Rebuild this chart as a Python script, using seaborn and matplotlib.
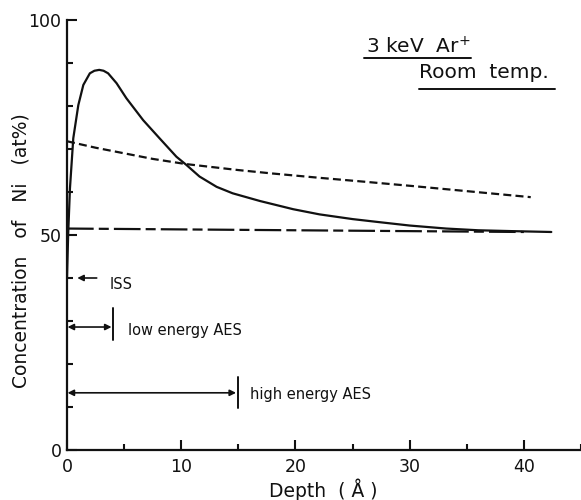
import matplotlib
matplotlib.use("Agg")
import matplotlib.pyplot as plt
from matplotlib.ticker import MultipleLocator, FixedLocator
import pandas as pd
import seaborn as sns

# Ni surface concentration vs depth after 3 keV Ar+ sputtering (room temperature)
depth_solid = [0.0, 0.1, 0.26, 0.55, 0.99, 1.43, 2.0, 2.4, 2.82, 3.2, 3.6, 4.34,
               5.2, 6.67, 8.1, 9.58, 10.45, 11.6, 13.1, 14.5, 16.9, 19.8, 22.1,
               25.0, 27.3, 30.0, 33.2, 36.0, 39.0, 42.4]
conc_solid = [40.0, 50.0, 60.9, 72.5, 80.2, 84.9, 87.6, 88.2, 88.4, 88.2, 87.6,
              85.3, 81.8, 76.7, 72.5, 68.2, 66.3, 63.6, 61.2, 59.7, 57.9, 56.0,
              54.8, 53.7, 53.0, 52.2, 51.5, 51.1, 50.9, 50.7]

depth_dashed = [0.0, 2.5, 5.0, 7.5, 10.4, 15.0, 18.0, 22.1, 26.0, 30.2, 35.0, 40.6]
conc_dashed = [71.8, 70.3, 69.0, 67.7, 66.5, 65.1, 64.3, 63.3, 62.4, 61.4, 60.2, 58.8]

depth_dashdot = [0.0, 10.0, 20.0, 30.0, 40.0]
conc_dashdot = [51.5, 51.3, 51.1, 50.9, 50.7]

# probing depths of the analysis methods (Å) and the heights they are drawn at
iss_depth, iss_level = 0.9, 40.0
low_aes_depth, low_aes_level = 3.9, 28.6
high_aes_depth, high_aes_level = 14.8, 13.3

font = "DejaVu Sans"
sns.set_style("ticks")
plt.rcParams["font.family"] = [font]

fig = plt.figure(figsize=(5.81, 5.0), dpi=100)
ax = fig.add_axes([67 / 581, 0.10, 1 - 67 / 581, 0.86])

df_solid = pd.DataFrame({"depth": depth_solid, "conc": conc_solid})
df_dashed = pd.DataFrame({"depth": depth_dashed, "conc": conc_dashed})
df_dashdot = pd.DataFrame({"depth": depth_dashdot, "conc": conc_dashdot})

ink = "#111111"
sns.lineplot(data=df_solid, x="depth", y="conc", ax=ax, color=ink, lw=1.6,
             sort=False, estimator=None)
ax.lines[-1].set_solid_joinstyle("round")
sns.lineplot(data=df_dashed, x="depth", y="conc", ax=ax, color=ink, lw=1.6,
             sort=False, estimator=None)
ax.lines[-1].set_dashes((3.6, 1.9))
sns.lineplot(data=df_dashdot, x="depth", y="conc", ax=ax, color=ink, lw=1.6,
             sort=False, estimator=None)
ax.lines[-1].set_dashes((12, 2.3, 4.5, 2.3))

ax.set_xlim(0, 45)
ax.set_ylim(0, 100)

for s in ("top", "right"):
    ax.spines[s].set_visible(False)
for s in ("left", "bottom"):
    ax.spines[s].set_linewidth(1.6)
    ax.spines[s].set_color(ink)

ax.yaxis.set_major_locator(FixedLocator([0, 50, 100]))
ax.yaxis.set_minor_locator(MultipleLocator(10))
ax.xaxis.set_major_locator(MultipleLocator(10))
ax.xaxis.set_minor_locator(MultipleLocator(5))
ax.tick_params(axis="both", which="major", direction="in", length=7, width=1.5,
               labelsize=12.5, colors=ink, pad=4)
ax.tick_params(axis="both", which="minor", direction="in", length=4, width=1.5,
               colors=ink)
ax.tick_params(axis="x", which="major", pad=6)

ax.set_xlabel("")
ax.set_ylabel("")
ax.text(-0.09, 0.463, "Concentration   of   Ni   (at%)", transform=ax.transAxes,
        rotation=90, ha="center", va="center", fontsize=13.5, color=ink)
ax.text(0.498, -0.093, "Depth  ( Å )", transform=ax.transAxes,
        ha="center", va="center", fontsize=13.5, color=ink)

# condition labels, underlined
ax.text(26.2, 93.7, "3 keV  Ar$^{+}$", ha="left", va="center", fontsize=14.5,
        color=ink)
ax.plot([26.0, 35.4], [91.2, 91.2], color=ink, lw=1.4, clip_on=False)
ax.text(30.8, 87.7, "Room  temp.", ha="left", va="center", fontsize=14.5,
        color=ink)
ax.plot([30.8, 42.7], [84.0, 84.0], color=ink, lw=1.4, clip_on=False)

# analysis depth markers
arrow_kw = dict(color=ink, lw=1.2, mutation_scale=9, shrinkA=0, shrinkB=0)
ax.annotate("", xy=(iss_depth, iss_level), xytext=(2.6, iss_level),
            arrowprops=dict(arrowstyle="-|>", **arrow_kw))
ax.text(3.7, iss_level - 1.6, "ISS", ha="left", va="center", fontsize=10.5,
        color=ink)

ax.annotate("", xy=(low_aes_depth, low_aes_level), xytext=(0.05, low_aes_level),
            arrowprops=dict(arrowstyle="<|-|>", **arrow_kw))
ax.plot([4.0, 4.0], [25.6, 33.0], color=ink, lw=1.4)
ax.text(5.3, low_aes_level - 0.7, "low energy AES", ha="left", va="center",
        fontsize=10.5, color=ink)

ax.annotate("", xy=(high_aes_depth, high_aes_level), xytext=(0.05, high_aes_level),
            arrowprops=dict(arrowstyle="<|-|>", **arrow_kw))
ax.plot([15.0, 15.0], [9.8, 17.0], color=ink, lw=1.4)
ax.text(16.0, high_aes_level - 0.5, "high energy AES", ha="left", va="center",
        fontsize=10.5, color=ink)

fig.savefig("out.png", dpi=100)
